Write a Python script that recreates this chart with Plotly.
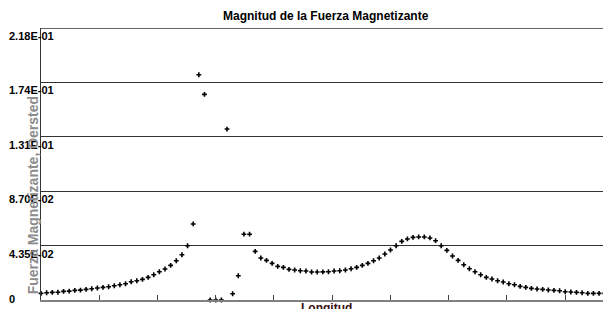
import plotly.graph_objects as go

# Longitud positions (evenly spaced stations) and magnitude values (Oersted)
longitud = [round(i * 0.3, 1) for i in range(101)]
magnitud = [
    0.0053, 0.0058, 0.0061, 0.0062, 0.0069, 0.0071, 0.0077, 0.0079, 0.0085, 0.0090,
    0.0096, 0.0101, 0.0106, 0.0114, 0.0122, 0.0130, 0.0146, 0.0154, 0.0165, 0.0181,
    0.0202, 0.0226, 0.0248, 0.0277, 0.0314, 0.0362, 0.0434, 0.0608, 0.1801, 0.1644,
    0.0000, 0.0000, 0.0000, 0.1367, 0.0050, 0.0194, 0.0526, 0.0526, 0.0389, 0.0336,
    0.0317, 0.0293, 0.0269, 0.0261, 0.0245, 0.0240, 0.0234, 0.0232, 0.0224, 0.0224,
    0.0225, 0.0226, 0.0232, 0.0234, 0.0240, 0.0250, 0.0261, 0.0277, 0.0293, 0.0314,
    0.0336, 0.0368, 0.0400, 0.0434, 0.0469, 0.0488, 0.0501, 0.0504, 0.0504, 0.0496,
    0.0474, 0.0434, 0.0397, 0.0352, 0.0317, 0.0282, 0.0250, 0.0226, 0.0202, 0.0181,
    0.0168, 0.0154, 0.0144, 0.0130, 0.0122, 0.0109, 0.0101, 0.0093, 0.0088, 0.0085,
    0.0080, 0.0077, 0.0074, 0.0066, 0.0064, 0.0061, 0.0058, 0.0053, 0.0053, 0.0053,
    0.0053,
]

y_tickvals = [0, 0.0435, 0.087, 0.1305, 0.174, 0.2175]
y_ticktext = ["0", "4.35E-02", "8.70E-02", "1.31E-01", "1.74E-01", "2.18E-01"]

title_text = "Magnitud de la Fuerza Magnetizante"
x_title = "Longitud"
y_title = "Fuerza Magnetizante, Oersted"

FONT = "Liberation Sans, Arial, sans-serif"

fig = go.Figure()
fig.add_trace(go.Scatter(
    x=longitud, y=magnitud, mode="markers",
    marker=dict(symbol="cross", size=4, color="black", line=dict(width=0)),
    cliponaxis=False, showlegend=False,
))

annotations = []
for v, t in zip(y_tickvals, y_ticktext):
    if v == 0:
        annotations.append(dict(xref="paper", yref="y", x=0, y=v, text="<b>" + t + "</b>",
                                showarrow=False, xanchor="left", yanchor="middle",
                                xshift=-34, yshift=1,
                                font=dict(family=FONT, size=11, color="black")))
    else:
        annotations.append(dict(xref="paper", yref="y", x=0, y=v, text="<b>" + t + "</b>",
                                showarrow=False, xanchor="left", yanchor="top",
                                xshift=-34, yshift=0,
                                font=dict(family=FONT, size=11, color="black")))

annotations.append(dict(xref="paper", yref="paper", x=0, y=0.385, text="<b>" + y_title + "</b>",
                        showarrow=False, textangle=-90, xanchor="center", yanchor="middle",
                        xshift=-8, font=dict(family=FONT, size=14, color="#8c8c8c")))
annotations.append(dict(xref="paper", yref="paper", x=0.5, y=0, text="<b>" + x_title + "</b>",
                        showarrow=False, xanchor="center", yanchor="top",
                        yshift=1, font=dict(family=FONT, size=12, color="#3a1010")))
annotations.append(dict(xref="paper", yref="paper", x=0.5, y=1, text="<b>" + title_text + "</b>",
                        showarrow=False, xanchor="center", yanchor="bottom",
                        yshift=3, font=dict(family=FONT, size=12, color="black")))

# top grid line (at the highest tick, which is the axis maximum)
shapes = [dict(type="line", xref="paper", yref="y", x0=0, x1=1,
               y0=y_tickvals[-1], y1=y_tickvals[-1], line=dict(color="#333333", width=1.5))]

# the page body has an 8px margin, so the figure is sized/offset to compensate
fig.update_layout(
    width=603, height=301,
    margin=dict(l=33, r=0, t=20, b=9, pad=0),
    plot_bgcolor="white", paper_bgcolor="white",
    xaxis=dict(range=[0, 30.336], tick0=0, dtick=3.1, ticks="inside", ticklen=5,
               tickcolor="#444", tickwidth=1, showticklabels=False, showgrid=False,
               zeroline=False, showline=True, linecolor="#808080", linewidth=2),
    yaxis=dict(range=[0, y_tickvals[-1]], tickvals=y_tickvals, showticklabels=False,
               ticks="", showgrid=True, gridcolor="#333333", gridwidth=1, zeroline=False,
               showline=True, linecolor="#333333", linewidth=1),
    annotations=annotations,
    shapes=shapes,
)

fig.write_html("out.html")
